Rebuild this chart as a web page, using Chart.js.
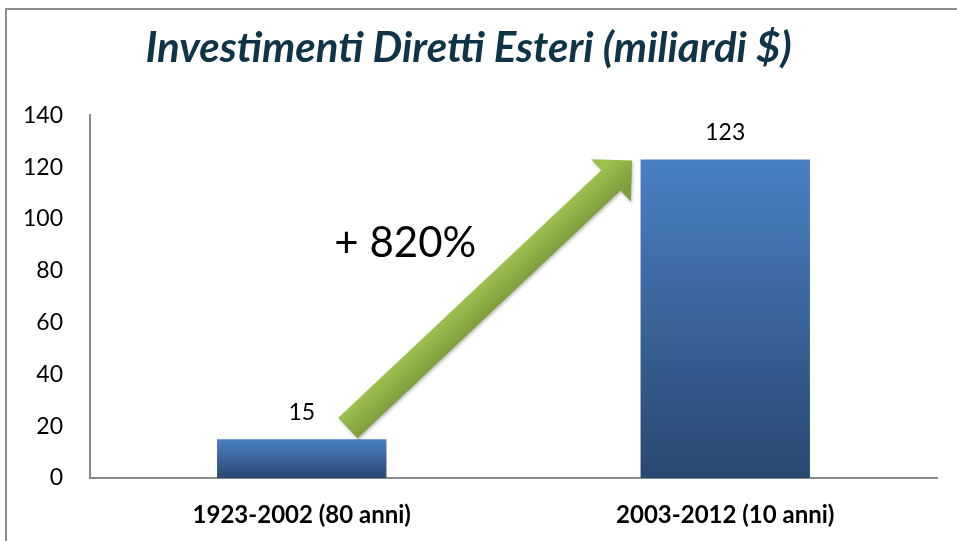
<!DOCTYPE html>
<html>
<head>
<meta charset="utf-8">
<script src="https://cdn.jsdelivr.net/npm/chart.js@4/dist/chart.umd.min.js"></script>
<style>
  html, body { margin: 0; padding: 0; background: #fff; overflow: hidden; }
  #wrap { position: absolute; left: 0; top: 0; width: 957px; height: 541px; }
  #frame { position: absolute; left: 5px; top: 8px; width: 1100px; height: 700px;
           border: 2px solid #8c8c8c; pointer-events: none; }
</style>
</head>
<body>
<div id="wrap"><canvas id="chart"></canvas></div>
<div id="frame"></div>
<script>
// dati del grafico
const categories = ['1923-2002 (80 anni)', '2003-2012 (10 anni)'];
const investimenti = [15, 123];
const yTicks = [0, 20, 40, 60, 80, 100, 120, 140];
const chartTitle = 'Investimenti Diretti Esteri (miliardi $)';
const growthLabel = '+ 820%';

const FONT = 'Lato';

// gradiente verticale per ogni barra
function barGradient(ctx) {
    const chart = ctx.chart;
    const { chartArea, scales } = chart;
    if (!chartArea || ctx.type !== 'data') return '#3f6ca8';
    const top = scales.y.getPixelForValue(ctx.raw);
    const base = scales.y.getPixelForValue(0);
    const g = chart.ctx.createLinearGradient(0, top, 0, base);
    g.addColorStop(0, '#4a80c4');
    g.addColorStop(1, '#2a4770');
    return g;
}

// etichette sopra le barre
const valueLabels = {
    id: 'valueLabels',
    afterDatasetsDraw(chart) {
        const ctx = chart.ctx;
        const meta = chart.getDatasetMeta(0);
        ctx.save();
        ctx.font = `23px ${FONT}`;
        ctx.fillStyle = '#000';
        ctx.textAlign = 'center';
        ctx.textBaseline = 'middle';
        meta.data.forEach((bar, i) => {
            ctx.fillText(investimenti[i], bar.x, bar.y - 27);
        });
        ctx.restore();
    }
};

// freccia verde con la crescita percentuale
const growthArrow = {
    id: 'growthArrow',
    afterDatasetsDraw(chart) {
        const { ctx, scales } = chart;
        const x0 = scales.x.getPixelForValue(0);
        const x1 = scales.x.getPixelForValue(1);
        const lerp = t => x0 + (x1 - x0) * t;

        const tail = { x: lerp(0.109), y: scales.y.getPixelForValue(19.3) };
        const tip = { x: lerp(0.78), y: scales.y.getPixelForValue(122.6) };
        const dx = tip.x - tail.x, dy = tip.y - tail.y;
        const len = Math.hypot(dx, dy);
        const ux = dx / len, uy = dy / len;
        const nx = -uy, ny = ux;
        const shaft = 14, head = 29, headLen = 29;
        const hb = { x: tip.x - ux * headLen, y: tip.y - uy * headLen };

        ctx.save();
        ctx.beginPath();
        ctx.moveTo(tail.x + nx * shaft, tail.y + ny * shaft);
        ctx.lineTo(hb.x + nx * shaft, hb.y + ny * shaft);
        ctx.lineTo(hb.x + nx * head, hb.y + ny * head);
        ctx.lineTo(tip.x, tip.y);
        ctx.lineTo(hb.x - nx * head, hb.y - ny * head);
        ctx.lineTo(hb.x - nx * shaft, hb.y - ny * shaft);
        ctx.lineTo(tail.x - nx * shaft, tail.y - ny * shaft);
        ctx.closePath();

        const mx = (tail.x + tip.x) / 2, my = (tail.y + tip.y) / 2;
        const g = ctx.createLinearGradient(mx - nx * shaft, my - ny * shaft, mx + nx * shaft, my + ny * shaft);
        g.addColorStop(0, '#9cc04f');
        g.addColorStop(1, '#7e9f3d');
        ctx.shadowColor = 'rgba(0,0,0,0.25)';
        ctx.shadowBlur = 3;
        ctx.shadowOffsetX = 1;
        ctx.shadowOffsetY = 2;
        ctx.fillStyle = g;
        ctx.fill();
        ctx.restore();

        // testo della crescita
        ctx.save();
        ctx.font = `42px ${FONT}`;
        ctx.fillStyle = '#000';
        ctx.textAlign = 'left';
        ctx.textBaseline = 'middle';
        ctx.fillText(growthLabel, lerp(0.077), scales.y.getPixelForValue(90.5));
        ctx.restore();
    }
};

new Chart(document.getElementById('chart'), {
    type: 'bar',
    data: {
        labels: categories,
        datasets: [{
            label: chartTitle,
            data: investimenti,
            backgroundColor: barGradient,
            borderWidth: 0,
            categoryPercentage: 1,
            barPercentage: 0.4
        }]
    },
    options: {
        responsive: true,
        maintainAspectRatio: false,
        animation: false,
        layout: { padding: { left: 0, right: 20, top: 0, bottom: 13 } },
        plugins: {
            legend: { display: false },
            tooltip: { enabled: false },
            title: {
                display: true,
                text: chartTitle,
                color: '#0f3447',
                font: { family: FONT, size: 42, weight: 'bold', style: 'italic' },
                padding: { top: 23, bottom: 42 }
            }
        },
        scales: {
            x: {
                afterFit: s => { s.height = 50; },
                grid: { display: false, drawTicks: false },
                border: { display: true, color: '#8a8a8a', width: 2 },
                ticks: { color: '#000', padding: 23, font: { family: FONT, size: 24, weight: 'bold' } }
            },
            y: {
                min: yTicks[0],
                max: yTicks[yTicks.length - 1],
                afterBuildTicks: s => { s.ticks = yTicks.map(v => ({ value: v })); },
                afterFit: s => { s.width = 90; },
                grid: { display: false, drawTicks: false },
                border: { display: true, color: '#8a8a8a', width: 2 },
                ticks: { color: '#000', padding: 27, font: { family: FONT, size: 23 } }
            }
        }
    },
    plugins: [valueLabels, growthArrow]
});
</script>
</body>
</html>
